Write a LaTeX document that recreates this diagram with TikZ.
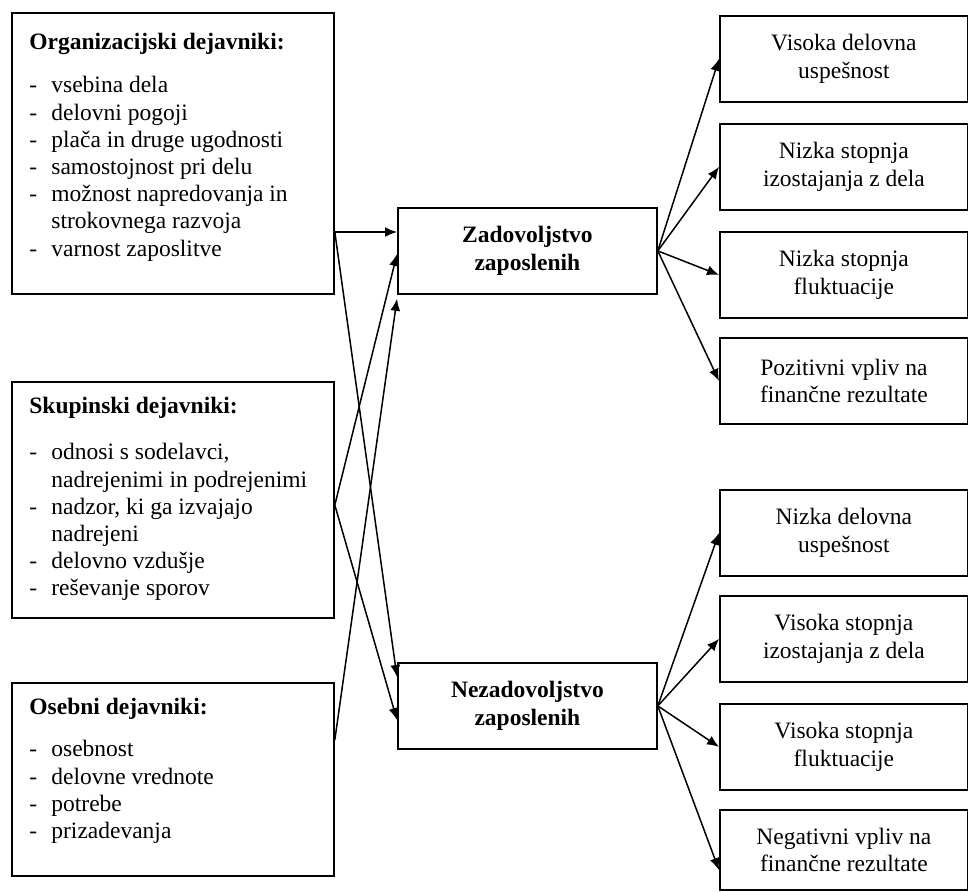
\documentclass[tikz,border=0pt]{standalone}
\usepackage{fontspec}
\setmainfont{Liberation Serif}
\usetikzlibrary{calc,arrows.meta}

\newcommand\dfont{\fontsize{11.75}{13.6}\selectfont}
\newcommand\itm[1]{\makebox[11pt][l]{-}#1}
\newcommand\cont[1]{\hspace*{11pt}#1}

\begin{document}
\begin{tikzpicture}[x=0.5pt, y=-0.5pt,
    every node/.style={font=\dfont},
    box/.style={draw, line width=0.9pt, inner sep=0pt, anchor=north west},
    leftbox/.style={box, minimum width=161pt},
    midbox/.style={box, minimum width=129.5pt, minimum height=43pt, align=center, font=\dfont\bfseries},
    outbox/.style={box, minimum width=124pt, minimum height=43pt, align=center},
    list/.style={anchor=north west, inner sep=0pt, align=left},
    arr/.style={-{Latex[length=6pt,width=5pt]}, line width=0.75pt}]
    \useasboundingbox (0,0) rectangle (968,891);

    % factors
    \node[leftbox, minimum height=140.5pt] (org) at (11,12) {};
    \node[leftbox, minimum height=118pt] (skup) at (11,381) {};
    \node[leftbox, minimum height=96.5pt] (oseb) at (11,682) {};
    \node[list] (orgtext) at ($(org.north west)+(18,21)$) {\textbf{Organizacijski dejavniki:}\\[8pt]
      \itm{vsebina dela}\\ \itm{delovni pogoji}\\ \itm{plača in druge ugodnosti}\\
      \itm{samostojnost pri delu}\\ \itm{možnost napredovanja in}\\ \cont{strokovnega razvoja}\\
      \itm{varnost zaposlitve}};
    \node[list] (skuptext) at ($(skup.north west)+(18,16)$) {\textbf{Skupinski dejavniki:}\\[9.5pt]
      \itm{odnosi s sodelavci,}\\ \cont{nadrejenimi in podrejenimi}\\ \itm{nadzor, ki ga izvajajo}\\
      \cont{nadrejeni}\\ \itm{delovno vzdušje}\\ \itm{reševanje sporov}};
    \node[list] (osebtext) at ($(oseb.north west)+(18,16)$) {\textbf{Osebni dejavniki:}\\[7.5pt]
      \itm{osebnost}\\ \itm{delovne vrednote}\\ \itm{potrebe}\\ \itm{prizadevanja}};

    % satisfaction
    \node[midbox] (zad) at (397,207) {Zadovoljstvo\\zaposlenih};
    \node[midbox] (nezad) at (397,662) {Nezadovoljstvo\\zaposlenih};

    % consequences
    \node[outbox] (pos1) at (719,15) {Visoka delovna\\uspešnost};
    \node[outbox] (pos2) at (719,123) {Nizka stopnja\\izostajanja z dela};
    \node[outbox] (pos3) at (719,231) {Nizka stopnja\\fluktuacije};
    \node[outbox] (pos4) at (719,337) {Pozitivni vpliv na\\finančne rezultate};
    \node[outbox] (neg1) at (719,489) {Nizka delovna\\uspešnost};
    \node[outbox] (neg2) at (719,595) {Visoka stopnja\\izostajanja z dela};
    \node[outbox] (neg3) at (719,703) {Visoka stopnja\\fluktuacije};
    \node[outbox, minimum height=40pt] (neg4) at (719,809) {Negativni vpliv na\\finančne rezultate};

    \coordinate (orgout) at ($(org.north east)+(0,220)$);
    \coordinate (skupout) at ($(skup.north east)+(0,124)$);
    \coordinate (osebout) at ($(oseb.north east)+(0,58)$);
    \coordinate (zadin1) at ($(zad.north west)+(0,25)$);
    \coordinate (zadin2) at ($(zad.north west)+(0,47)$);
    \coordinate (zadin3) at ($(zad.south west)+(0,4)$);
    \coordinate (nezadin1) at ($(nezad.north west)+(0,15)$);
    \coordinate (nezadin2) at ($(nezad.north west)+(0,58)$);
    \coordinate (neg4in) at ($(neg4.north west)+(0,61)$);

    \draw[arr] (orgout) -- (zadin1);
    \draw[arr] (orgout) -- (nezadin1);
    \draw[arr] (skupout) -- (zadin2);
    \draw[arr] (skupout) -- (nezadin2);
    \draw[arr] (osebout) -- (zadin3);

    \foreach \n in {pos1,pos2,pos3,pos4}
      \draw[arr] (zad.east) -- (\n.west);
    \foreach \n in {neg1,neg2,neg3}
      \draw[arr] (nezad.east) -- (\n.west);
    \draw[arr] (nezad.east) -- (neg4in);
\end{tikzpicture}
\end{document}
